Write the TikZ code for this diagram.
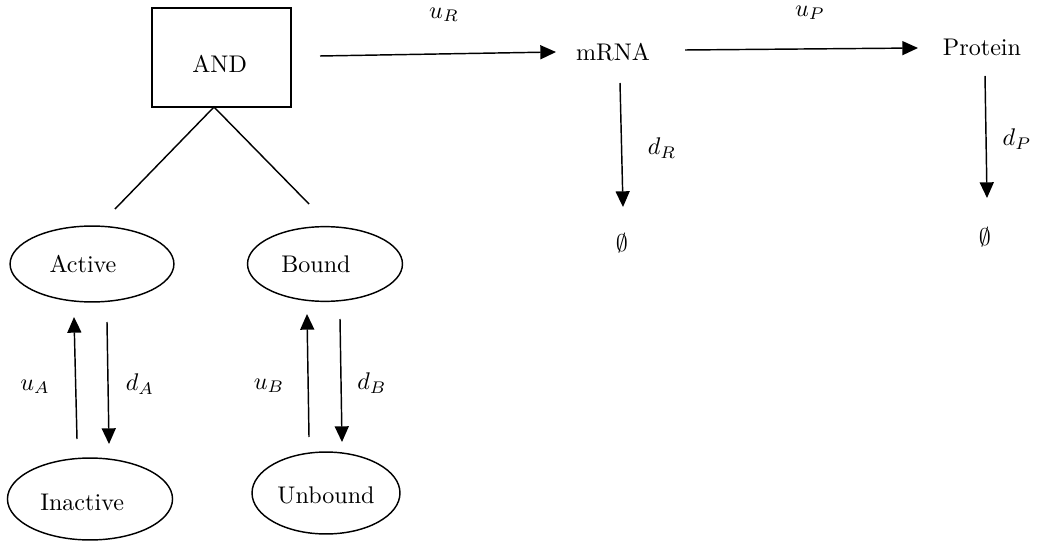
\documentclass[tikz,border=0pt]{standalone}
\usetikzlibrary{arrows.meta,shapes.geometric}
\begin{document}
\begin{tikzpicture}[x=0.415pt,y=-0.415pt,
  conn/.style={line width=0.6pt,-{Triangle[length=6.5pt,width=5.8pt]}},
  plainline/.style={line width=0.6pt},
  state/.style={draw,ellipse,line width=0.6pt,inner sep=0pt},
  lbl/.style={inner sep=0pt}]
\path[use as bounding box] (0,0) rectangle (1047,541);
% gate
\node[draw,line width=0.6pt,minimum width=57.7pt,minimum height=41pt,inner sep=0pt] (and) at (221.5,57.5) {\raisebox{-2.5pt}[\height][\depth]{AND}\kern1.5pt};
% states
\node[state,minimum width=68pt,minimum height=31.5pt] (active) at (92,264) {Active\kern7.5pt};
\node[state,minimum width=64.3pt,minimum height=31pt] (bound) at (325,264) {Bound\kern7.5pt};
\node[state,minimum width=68.5pt,minimum height=34pt] (inactive) at (90,499) {\raisebox{-1.6pt}[\height][\depth]{Inactive}\kern6.5pt};
\node[state,minimum width=61.4pt,minimum height=34pt] (unbound) at (326,493) {\raisebox{-0.8pt}[\height][\depth]{Unbound}};
% species
\node[lbl] (mrna) at (613,52) {mRNA};
\node[lbl] (protein) at (982,47) {Protein};
\node[lbl] (nullR) at (622,243) {$\emptyset$};
\node[lbl] (nullP) at (985,237) {$\emptyset$};
% rate labels
\node[lbl] (uR) at (444,15) {$u_R$};
\node[lbl] (uP) at (810,13) {$u_P$};
\node[lbl] (dR) at (662,148) {$d_R$};
\node[lbl] (dP) at (1017,139) {$d_P$};
\node[lbl] (uA) at (35,387) {$u_A$};
\node[lbl] (dA) at (140,384) {$d_A$};
\node[lbl] (uB) at (269,386) {$u_B$};
\node[lbl] (dB) at (372,383) {$d_B$};
% connector end points
\coordinate (andb) at (214,107);
\coordinate (legA) at (115,209);
\coordinate (legB) at (309,204);
\coordinate (andout) at (320,56);
\coordinate (mrnain) at (556,52);
\coordinate (mrnaout) at (685,50);
\coordinate (protin) at (918,48);
\coordinate (mrnadown) at (620,83);
\coordinate (nullRin) at (623,207);
\coordinate (protdown) at (985,76);
\coordinate (nullPin) at (987,198);
\coordinate (ua1) at (77,439);
\coordinate (ua2) at (74,317);
\coordinate (da1) at (107,322);
\coordinate (da2) at (109,444);
\coordinate (ub1) at (309,437);
\coordinate (ub2) at (307,314);
\coordinate (db1) at (340,319);
\coordinate (db2) at (342,442);
% connectors
\draw[plainline] (legA) -- (andb) -- (legB);
\draw[conn] (andout) -- (mrnain);
\draw[conn] (mrnaout) -- (protin);
\draw[conn] (mrnadown) -- (nullRin);
\draw[conn] (protdown) -- (nullPin);
\draw[conn] (ua1) -- (ua2);
\draw[conn] (da1) -- (da2);
\draw[conn] (ub1) -- (ub2);
\draw[conn] (db1) -- (db2);
\end{tikzpicture}
\end{document}
